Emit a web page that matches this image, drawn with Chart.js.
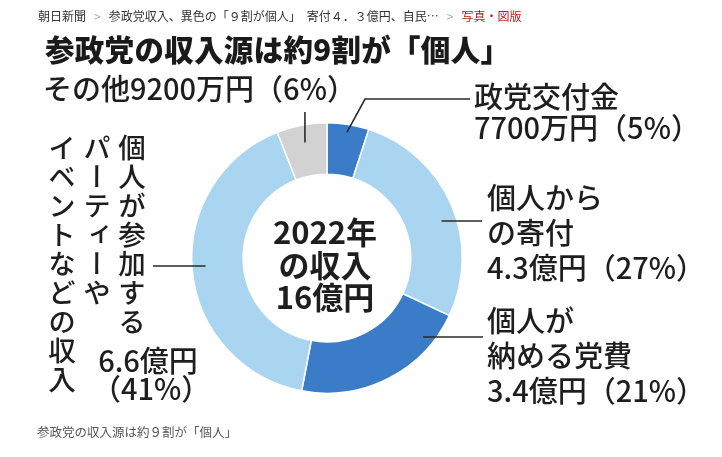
<!DOCTYPE html>
<html lang="ja">
<head>
<meta charset="utf-8">
<script src="https://cdn.jsdelivr.net/npm/chart.js@4.4.1/dist/chart.umd.min.js"></script>
<style>
  html, body { margin: 0; padding: 0; background: #fff; }
  body { width: 722px; height: 457px; position: relative; overflow: hidden;
         font-family: "Noto Sans CJK JP", "Noto Sans", sans-serif; color: #1e1e1e; }
  #chart { position: absolute; left: 0; top: 0; }
  .txt { position: absolute; white-space: nowrap; }
  .crumb { left: 38px; top: 7px; font-size: 12px; line-height: 18px; color: #333; }
  .crumb .sep { color: #aaa; margin: 0 8px; }
  .crumb .red { color: #b01c1c; }
  .title { left: 45px; top: 30px; font-size: 29.5px; line-height: 36px; font-weight: 900; color: #1a1a1a; letter-spacing: 0.3px; }
  .lbl { font-size: 29px; line-height: 35px; font-weight: 500; }
  .center { left: 225px; width: 200px; top: 215px; text-align: center; font-size: 31px; line-height: 32.5px; font-weight: 700; }
  .vert { writing-mode: vertical-rl; font-size: 27.5px; line-height: 35px; letter-spacing: 1.5px; font-weight: 500; }
  .caption { left: 37px; top: 423px; font-size: 12.5px; line-height: 18px; color: #555; }
</style>
</head>
<body>
<canvas id="chart" width="722" height="457"></canvas>

<div class="txt crumb">朝日新聞<span class="sep">&gt;</span>参政党収入、異色の「９割が個人」　寄付４．３億円、自民…<span class="sep">&gt;</span><span class="red">写真・図版</span></div>
<div class="txt title">参政党の収入源は約9割が「個人」</div>

<div class="txt lbl" id="lbl-4" style="left:43px; top:70px;"></div>
<div class="txt lbl" id="lbl-0" style="left:474px; top:80px; line-height:31px;"></div>
<div class="txt lbl" id="lbl-1" style="left:487px; top:179px;"></div>
<div class="txt lbl" id="lbl-2" style="left:487px; top:302px;"></div>
<div class="txt vert" id="lbl-3v" style="left:44px; top:134px;"></div>
<div class="txt lbl" id="lbl-3h" style="left:92px; top:345px; line-height:28px; text-align:center; width:112px;"></div>

<div class="txt center" id="center-text"></div>
<div class="txt caption">参政党の収入源は約９割が「個人」</div>

<script>
// 2022年の参政党の収入内訳(単位は%)
const categories = ['政党交付金', '個人からの寄付', '個人が納める党費', '個人が参加するパーティーやイベントなどの収入', 'その他'];
const amounts = ['7700万円', '4.3億円', '3.4億円', '6.6億円', '9200万円'];
const shares = [5, 27, 21, 41, 6];
const totalLines = ['2022年', 'の収入', '16億円'];

// ラベルの改行位置(表示用)
const labelLines = [
  ['政党交付金'],
  ['個人から', 'の寄付'],
  ['個人が', '納める党費'],
  ['個人が参加する', 'パーティーや', 'イベントなどの収入'],
  ['その他']
];

const sliceColors = ['#3a7cc8', '#aad5f0', '#3a7cc8', '#aad5f0', '#d2d2d2'];

function pct(i) {
  return amounts[i] + '（' + shares[i] + '%）';
}

function renderLabels() {
  document.getElementById('lbl-0').innerHTML = labelLines[0].join('<br>') + '<br>' + pct(0);
  document.getElementById('lbl-1').innerHTML = labelLines[1].join('<br>') + '<br>' + pct(1);
  document.getElementById('lbl-2').innerHTML = labelLines[2].join('<br>') + '<br>' + pct(2);
  document.getElementById('lbl-4').textContent = labelLines[4][0] + pct(4);
  document.getElementById('lbl-3v').innerHTML = labelLines[3].join('<br>');
  document.getElementById('lbl-3h').innerHTML = amounts[3] + '<br>（' + shares[3] + '%）';
  document.getElementById('center-text').innerHTML = totalLines.join('<br>');
}

// 引き出し線: 始点はドーナツの弧から計算する
const leaders = [
  { kind: 'elbow', rf: 0.94, elbow: [365, 99], end: 470 },
  { kind: 'h', rf: 0.89, y: 221, end: 482, side: 1 },
  { kind: 'h', rf: 0.92, y: 337, end: 483, side: 1 },
  { kind: 'h', rf: 0.9, y: 266, end: 153, side: -1 },
  { kind: 'v', rf: 0.87, end: 112 }
];

const leaderPlugin = {
  id: 'leaders',
  afterDatasetsDraw(chart) {
    const ctx = chart.ctx;
    const arcs = chart.getDatasetMeta(0).data;
    ctx.save();
    ctx.strokeStyle = '#2a2a2a';
    ctx.lineWidth = 1.6;
    arcs.forEach((arc, i) => {
      const p = arc.getProps(['x', 'y', 'startAngle', 'endAngle', 'outerRadius'], true);
      const spec = leaders[i];
      const r = p.outerRadius * spec.rf;
      const mid = (p.startAngle + p.endAngle) / 2;
      ctx.beginPath();
      if (spec.kind === 'h') {
        const dy = spec.y - p.y;
        const sx = p.x + spec.side * Math.sqrt(Math.max(r * r - dy * dy, 0));
        ctx.moveTo(sx, spec.y);
        ctx.lineTo(spec.end, spec.y);
      } else if (spec.kind === 'v') {
        const sx = p.x + Math.cos(mid) * r;
        const sy = p.y + Math.sin(mid) * r;
        ctx.moveTo(sx, sy);
        ctx.lineTo(sx, spec.end);
      } else {
        const sx = p.x + Math.cos(mid) * r;
        const sy = p.y + Math.sin(mid) * r;
        ctx.moveTo(sx, sy);
        ctx.lineTo(spec.elbow[0], spec.elbow[1]);
        ctx.lineTo(spec.end, spec.elbow[1]);
      }
      ctx.stroke();
    });
    ctx.restore();
  }
};

renderLabels();

new Chart(document.getElementById('chart'), {
  type: 'doughnut',
  data: {
    labels: categories,
    datasets: [{
      data: shares,
      backgroundColor: sliceColors,
      borderColor: '#ffffff',
      borderWidth: 1.5
    }]
  },
  options: {
    responsive: false,
    animation: false,
    cutout: '62%',
    layout: { padding: { left: 191, right: 259, top: 122, bottom: 63 } },
    plugins: {
      legend: { display: false },
      tooltip: { enabled: false }
    }
  },
  plugins: [leaderPlugin]
});
</script>
</body>
</html>
